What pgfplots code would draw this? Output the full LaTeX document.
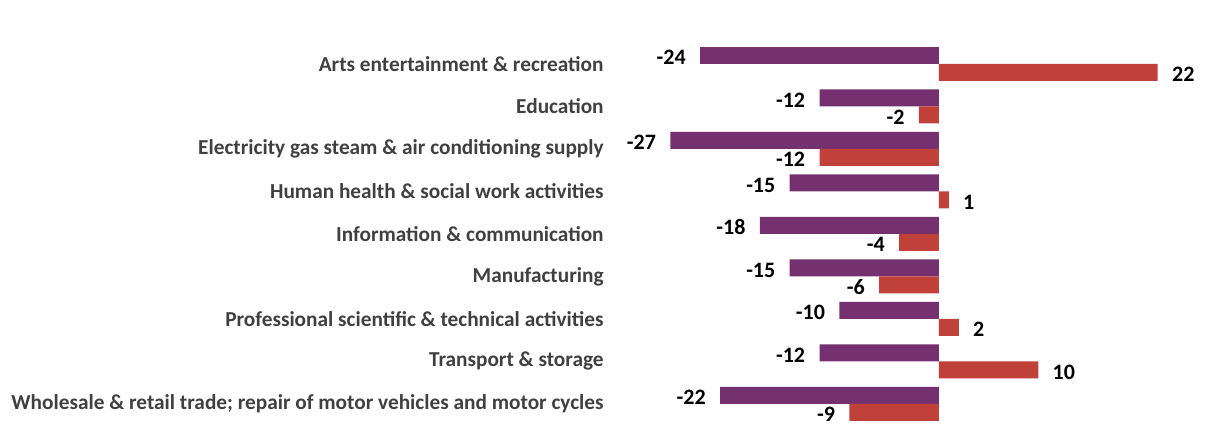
\documentclass[border=0pt]{standalone}
\usepackage{pgfplots}
\pgfplotsset{compat=1.18}
\usepackage{fontspec}
\setmainfont{Carlito}
\definecolor{cpurple}{RGB}{116,48,111}
\definecolor{cred}{RGB}{192,64,58}
\definecolor{labgrey}{RGB}{64,64,64}
\begin{document}
\begin{tikzpicture}
\begin{axis}[
  scale only axis,
  width=615.5pt, height=218.5pt,
  xbar, bar width=8.5pt,
  y dir=reverse,
  xmin=-94.37, xmax=29.35,
  ymin=-1.506, ymax=8.776,
  ytick={0,1,2,3,4,5,6,7,8},
  yticklabels={Arts entertainment \& recreation, Education, Electricity gas steam \& air conditioning supply, Human health \& social work activities, Information \& communication, Manufacturing, Professional scientific \& technical activities, Transport \& storage, Wholesale \& retail trade; repair of motor vehicles and motor cycles},
  yticklabel style={font=\fontsize{10.65}{12}\selectfont\bfseries, text=labgrey, anchor=east, inner sep=0pt, xshift=302pt},
  xtick=\empty,
  major tick length=0pt,
  axis line style={draw=none},
  nodes near coords,
  nodes near coords align={horizontal},
  every node near coord/.append style={font=\fontsize{11}{12}\selectfont\bfseries, text=black, inner xsep=7pt, yshift=-1pt},
  /pgf/number format/assume math mode=true,
  clip=false,
]
\addplot[draw=none, fill=cpurple, bar shift=4.25pt] coordinates {
(-24,0) (-12,1) (-27,2) (-15,3) (-18,4) (-15,5) (-10,6) (-12,7) (-22,8)};
\addplot[draw=none, fill=cred, bar shift=-4.25pt] coordinates {
(22,0) (-2,1) (-12,2) (1,3) (-4,4) (-6,5) (2,6) (10,7) (-9,8)};
\end{axis}
\end{tikzpicture}
\end{document}
